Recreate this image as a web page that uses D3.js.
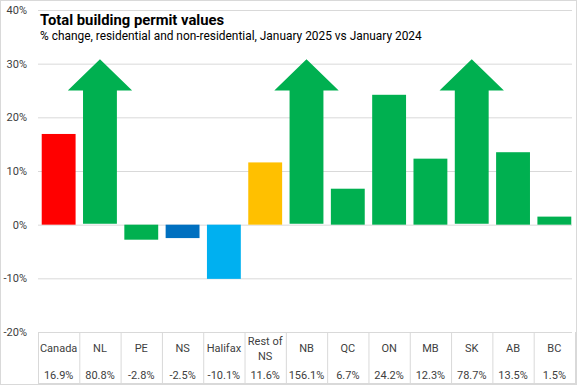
<!DOCTYPE html>
<html>
<head>
<meta charset="utf-8">
<script src="https://cdn.jsdelivr.net/npm/d3@7"></script>
<style>
  body { margin: 0; background: #fff; }
  svg { display: block; font-family: "Roboto", "Noto Sans", sans-serif; }
  .tick-label { font-size: 11px; fill: #404040; }
  .cell-label { font-size: 11px; fill: #404040; }
</style>
</head>
<body>
<svg id="chart" width="577" height="385"></svg>
<script>
const categories = ["Canada", "NL", "PE", "NS", "Halifax", "Rest of NS", "NB", "QC", "ON", "MB", "SK", "AB", "BC"];
const values = [16.9, 80.8, -2.8, -2.5, -10.1, 11.6, 156.1, 6.7, 24.2, 12.3, 78.7, 13.5, 1.5];
const valueLabels = ["16.9%", "80.8%", "-2.8%", "-2.5%", "-10.1%", "11.6%", "156.1%", "6.7%", "24.2%", "12.3%", "78.7%", "13.5%", "1.5%"];
const barColors = ["#ff0000", "#00b050", "#00b050", "#0070c0", "#00b0f0", "#ffc000", "#00b050", "#00b050", "#00b050", "#00b050", "#00b050", "#00b050", "#00b050"];
const yTicks = [-20, -10, 0, 10, 20, 30, 40];

// values above this are drawn as an arrow that runs off the scale
const capValue = 30;
const arrowTip = 30.8;
const arrowHeadBase = 25;

const svg = d3.select("#chart");
const width = 577, height = 385;
const plotLeft = 38, plotRight = 575, plotTop = 10, plotBottom = 332;

svg.append("rect")
  .attr("x", 0.5).attr("y", 0.5)
  .attr("width", width - 1).attr("height", height - 1)
  .attr("fill", "#fff").attr("stroke", "#d9d9d9");

const y = d3.scaleLinear().domain([-20, 40]).range([plotBottom, plotTop]);
const x = d3.scaleBand().domain(categories).range([plotLeft, plotRight])
  .paddingInner(0.18).paddingOuter(0.09);

// gridlines
svg.append("g")
  .selectAll("line")
  .data(yTicks)
  .join("line")
  .attr("x1", plotLeft).attr("x2", plotRight - 3)
  .attr("y1", (d) => y(d) + 0.5).attr("y2", (d) => y(d) + 0.5)
  .attr("stroke", "#d9d9d9").attr("stroke-width", 1);

svg.append("g")
  .selectAll("text")
  .data(yTicks)
  .join("text")
  .attr("class", "tick-label")
  .attr("x", 27)
  .attr("y", (d) => y(d) + 4)
  .attr("text-anchor", "end")
  .text((d) => `${d}%`);

const rows = categories.map((name, i) => ({ name, value: values[i], label: valueLabels[i], color: barColors[i] }));

// plain bars
svg.append("g")
  .selectAll("rect")
  .data(rows.filter((d) => d.value <= capValue))
  .join("rect")
  .attr("x", (d) => x(d.name))
  .attr("width", x.bandwidth())
  .attr("y", (d) => y(Math.max(0, d.value)))
  .attr("height", (d) => Math.abs(y(d.value) - y(0)))
  .attr("fill", (d) => d.color);

// off-scale bars as arrows
svg.append("g")
  .selectAll("path")
  .data(rows.filter((d) => d.value > capValue))
  .join("path")
  .attr("fill", (d) => d.color)
  .attr("d", (d) => {
    const x0 = x(d.name), x1 = x0 + x.bandwidth(), cx = x0 + x.bandwidth() / 2;
    const hw = x.bandwidth() * 0.95;
    return `M${x0},${y(0) - 1} L${x0},${y(arrowHeadBase)} L${cx - hw},${y(arrowHeadBase)} ` +
      `L${cx},${y(arrowTip)} L${cx + hw},${y(arrowHeadBase)} L${x1},${y(arrowHeadBase)} L${x1},${y(0) - 1} Z`;
  });

// title
svg.append("text")
  .attr("x", 40).attr("y", 25)
  .attr("font-size", 14.8).attr("font-weight", 700).attr("fill", "#000")
  .text("Total building permit values");
svg.append("text")
  .attr("x", 40).attr("y", 40)
  .attr("font-size", 11.9).attr("fill", "#000")
  .text("% change, residential and non-residential, January 2025 vs January 2024");

// data table under the axis
const step = x.step();
const cells = svg.append("g");
cells.selectAll("line")
  .data(d3.range(categories.length + 1))
  .join("line")
  .attr("x1", (i) => plotLeft + i * step + 0.5).attr("x2", (i) => plotLeft + i * step + 0.5)
  .attr("y1", plotBottom).attr("y2", height - 1)
  .attr("stroke", "#d9d9d9");

cells.append("line")
  .attr("x1", plotLeft).attr("x2", plotRight)
  .attr("y1", height - 1.5).attr("y2", height - 1.5)
  .attr("stroke", "#d9d9d9");

cells.selectAll("text.cat")
  .data(rows)
  .join("text")
  .attr("class", "cell-label cat")
  .attr("text-anchor", "middle")
  .attr("x", (d) => x(d.name) + x.bandwidth() / 2)
  .each(function (d) {
    const parts = d.name === "Rest of NS" ? ["Rest of", "NS"] : [d.name];
    const sel = d3.select(this);
    const startY = parts.length > 1 ? 345 : 352;
    parts.forEach((p, i) => {
      sel.append("tspan")
        .attr("x", x(d.name) + x.bandwidth() / 2)
        .attr("y", startY + i * 15)
        .text(p);
    });
  });

cells.selectAll("text.val")
  .data(rows)
  .join("text")
  .attr("class", "cell-label val")
  .attr("text-anchor", "middle")
  .attr("x", (d) => x(d.name) + x.bandwidth() / 2)
  .attr("y", 379)
  .text((d) => d.label);
</script>
</body>
</html>
